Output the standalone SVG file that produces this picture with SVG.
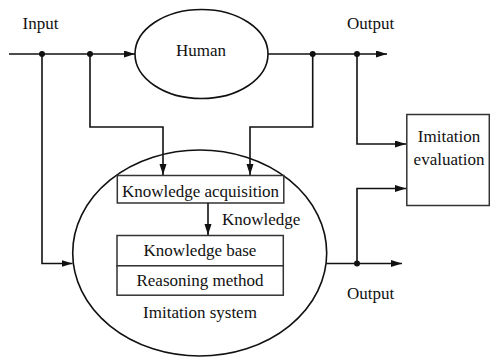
<svg xmlns="http://www.w3.org/2000/svg" width="490" height="358" viewBox="0 0 490 358">
<defs>
<style>
.t{font-family:"Liberation Serif","Times New Roman",serif;font-size:17px;fill:#111;}
.m{text-anchor:middle;}
.s{fill:none;stroke:#111;stroke-width:1.6;}
.b{fill:#fff;stroke:#333;stroke-width:1.5;}
.c{fill:none;stroke:#111;stroke-width:1.6;marker-end:url(#ah);}
.d{fill:#111;}
</style>
<marker id="ah" markerUnits="userSpaceOnUse" markerWidth="11" markerHeight="8" refX="11" refY="3.5" orient="auto">
<path d="M0,0 L11,3.5 L0,7 z" fill="#111"/>
</marker>
</defs>
<rect width="490" height="358" fill="#fff"/>
<g id="human">
<ellipse class="s" cx="201.5" cy="54" rx="66.5" ry="44.5"/>
<text class="t m" x="201" y="55.5">Human</text>
</g>
<g id="imitation-system">
<ellipse class="s" cx="199.7" cy="253" rx="127" ry="103"/>
<text class="t m" x="200" y="317.5">Imitation system</text>
</g>
<g id="knowledge-acquisition">
<rect class="b" x="117.3" y="175.5" width="166.5" height="27.5"/>
<text class="t m" x="200.5" y="196.5">Knowledge acquisition</text>
</g>
<g id="knowledge-base">
<rect class="b" x="117" y="235.5" width="166.3" height="30.3"/>
<text class="t m" x="200" y="256">Knowledge base</text>
</g>
<g id="reasoning-method">
<rect class="b" x="117" y="265.8" width="166.3" height="29.4"/>
<text class="t m" x="200" y="285.5">Reasoning method</text>
</g>
<g id="imitation-evaluation">
<rect class="b" x="406.8" y="114.5" width="82.5" height="91"/>
<text class="t m" x="449" y="141.5">Imitation</text>
<text class="t m" x="449" y="165">evaluation</text>
</g>
<g id="labels">
<text class="t" x="22.5" y="28.5">Input</text>
<text class="t" x="347" y="29">Output</text>
<text class="t" x="347" y="299">Output</text>
<text class="t" x="222" y="225">Knowledge</text>
</g>
<g id="connectors">
<path class="c" d="M9,54 H135"/>
<path class="c" d="M268,54 H387"/>
<path class="c" d="M90,54 V127 H163 V175"/>
<path class="c" d="M312.7,54 V127 H250 V175"/>
<path class="c" d="M357,54 V144 H406"/>
<path class="c" d="M42,54 V263.5 H72.5"/>
<path class="c" d="M326.5,263.5 H402"/>
<path class="c" d="M357,263.5 V188.5 H406"/>
<path class="c" d="M208,203 V235"/>
<circle class="d" cx="42" cy="54" r="3"/>
<circle class="d" cx="90" cy="54" r="3"/>
<circle class="d" cx="312.7" cy="54" r="3"/>
<circle class="d" cx="357" cy="54" r="3"/>
<circle class="d" cx="357" cy="263.5" r="3"/>
</g>
</svg>
